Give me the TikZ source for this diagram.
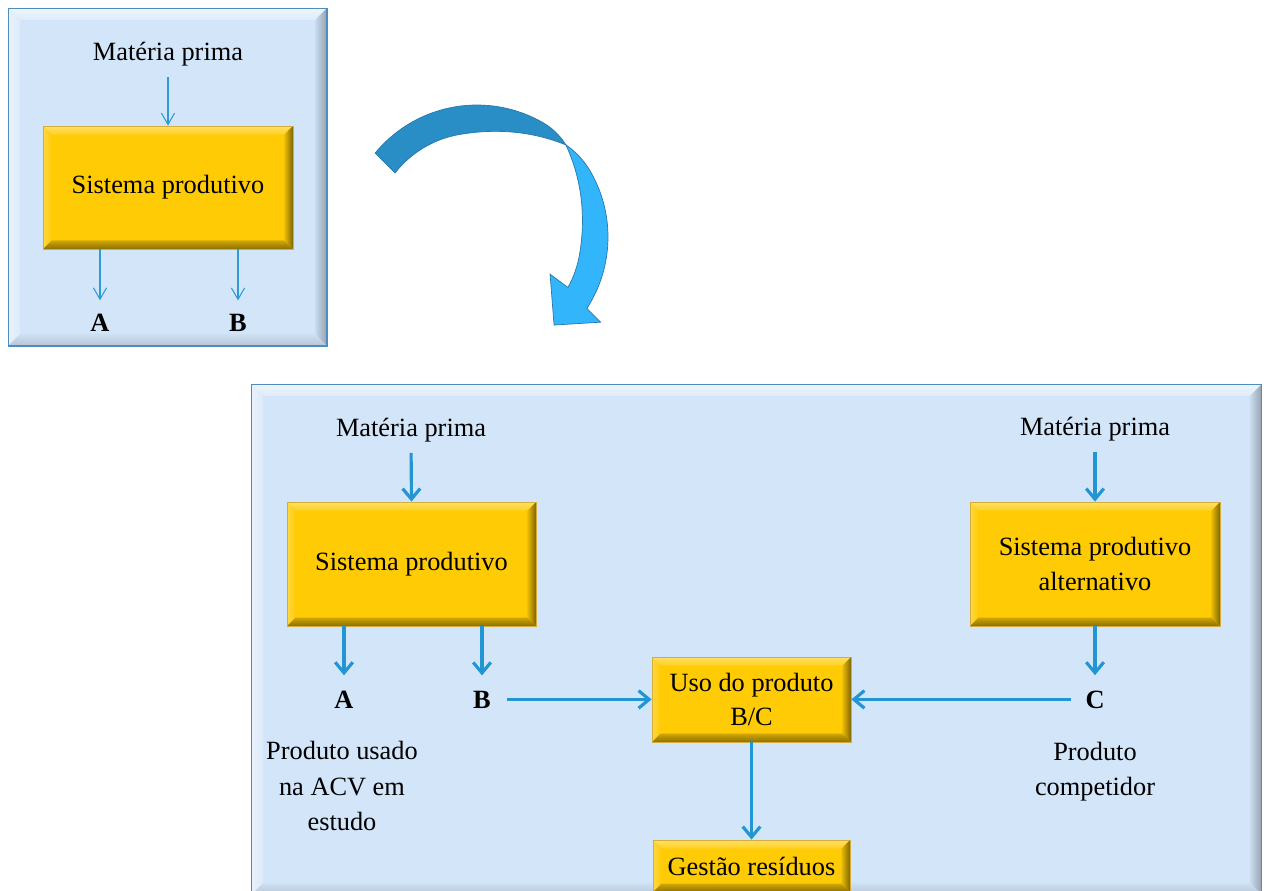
\documentclass[tikz,border=0pt]{standalone}
\usepackage{fontspec}
\setmainfont{Liberation Serif}
\usetikzlibrary{arrows.meta}

\definecolor{panelfill}{HTML}{D3E5F8}
\definecolor{panelline}{HTML}{4F8CC0}
\definecolor{yfill}{HTML}{FFCB05}
\definecolor{yline}{HTML}{D4AE3C}
\definecolor{arrowblue}{HTML}{2196D3}
\definecolor{thinblue}{HTML}{2E9BD6}
\definecolor{bigdark}{HTML}{2A8EC6}
\definecolor{biglight}{HTML}{33B5FC}
\definecolor{bigline}{HTML}{2578AA}

\tikzset{
  % bevelled edges drawn inside the node outline
  bevel/.style n args={5}{% depth, top, left, right, bottom shadings
    path picture={
      \coordinate (bnw) at (path picture bounding box.north west);
      \coordinate (bne) at (path picture bounding box.north east);
      \coordinate (bsw) at (path picture bounding box.south west);
      \coordinate (bse) at (path picture bounding box.south east);
      \shade[#2] (bnw) -- (bne) -- ([shift={(-#1,-#1)}]bne) -- ([shift={(#1,-#1)}]bnw) -- cycle;
      \shade[#3] (bnw) -- ([shift={(#1,-#1)}]bnw) -- ([shift={(#1,#1)}]bsw) -- (bsw) -- cycle;
      \shade[#4] (bne) -- (bse) -- ([shift={(-#1,#1)}]bse) -- ([shift={(-#1,-#1)}]bne) -- cycle;
      \shade[#5] (bsw) -- ([shift={(#1,#1)}]bsw) -- ([shift={(-#1,#1)}]bse) -- (bse) -- cycle;
    }},
  panel/.style={draw=panelline, line width=0.6pt, fill=panelfill, inner sep=0pt,
    bevel={0.24cm}
      {top color=white!60!panelfill, bottom color=white!25!panelfill}
      {left color=white!50!panelfill, right color=white!20!panelfill}
      {left color=black!4!panelfill, right color=black!30!panelfill}
      {top color=black!2!panelfill, bottom color=black!14!panelfill}},
  ybox/.style={draw=yline, line width=0.5pt, fill=yfill, inner sep=0pt,
    align=center, font=\fontsize{15}{19.6}\selectfont,
    bevel={0.17cm}
      {top color=white!40!yfill, bottom color=white!10!yfill}
      {left color=white!25!yfill, right color=yfill}
      {left color=black!8!yfill, right color=black!50!yfill}
      {top color=black!18!yfill, bottom color=black!45!yfill}},
  lbl/.style={inner sep=0pt, align=center, font=\fontsize{15}{20}\selectfont},
  lblb/.style={inner sep=0pt, font=\fontsize{15}{20}\selectfont\bfseries},
  thinarrow/.style={draw=thinblue, line width=0.6pt,
    -{Straight Barb[length=6.5pt,width=7.5pt,line width=0.6pt]}},
  thickarrow/.style={draw=arrowblue, line width=1.8pt,
    -{Straight Barb[length=6pt,width=10pt,line width=1.8pt]}}
}

\begin{document}
\begin{tikzpicture}[x=0.02cm, y=-0.02cm]
  \useasboundingbox (0,0) rectangle (1267,890);
  \clip (0,0) rectangle (1267,890);
  \fill[white] (0,0) rectangle (1267,890);

  % ---------- small scheme ----------
  \node[panel, minimum width=6.38cm, minimum height=6.76cm] (frame1) at (167.5,177) {};
  \node[ybox, minimum width=5cm, minimum height=2.46cm] (sp1) at (168,187.5) {Sistema produtivo};
  \node[lbl, anchor=base] (mp1) at (168,60) {Matéria prima};
  \node[lblb, anchor=base] (a1) at (100,331) {A};
  \node[lblb, anchor=base] (b1) at (238,331) {B};

  \draw[thinarrow, shorten <=0.22cm] (mp1.south) -- (sp1.north);
  \draw[thinarrow, shorten >=0.26cm] (sp1.south -| a1.north) -- (a1.north);
  \draw[thinarrow, shorten >=0.26cm] (sp1.south -| b1.north) -- (b1.north);

  % ---------- curved block arrow (twisted ribbon) ----------
  \begin{scope}[shift={(477,237)}, x=0.02cm, y=0.02cm]
    % front face, widening from the twist down to the head
    \fill[biglight, draw=bigline, line width=0.4pt]
      plot[domain=46:-33, variable=\t, samples=40] (\t:{131-3*(max(0,\t-30)/16)^2})
      -- (-34.6:150) -- (-48.8:117) -- (-27:82)
      -- plot[domain=-29:46, variable=\t, samples=40] (\t:{104+24*(max(0,\t+10)/56)^2})
      -- cycle;
    % back face, narrowing towards the twist
    \fill[bigdark, draw=bigline, line width=0.4pt]
      plot[domain=140.5:46, variable=\t, samples=50] (\t:{132-4*(max(0,60-\t)/14)^2})
      -- plot[domain=46:142, variable=\t, samples=50] (\t:{104+24*(max(0,100-\t)/54)^2})
      -- cycle;
  \end{scope}

  % ---------- extended scheme ----------
  \node[panel, minimum width=20.22cm, minimum height=10.22cm] (frame2) at (756.5,639.5) {};

  \node[ybox, minimum width=4.98cm, minimum height=2.48cm] (sp2) at (411.5,564) {Sistema produtivo};
  \node[ybox, minimum width=5cm, minimum height=2.48cm] (sp3) at (1095,564) {Sistema produtivo\\alternativo};
  \node[ybox, minimum width=3.98cm, minimum height=1.7cm] (uso) at (751.5,699.5) {Uso do produto\\B/C};
  \node[ybox, minimum width=3.94cm, minimum height=1.04cm] (ges) at (751.5,866) {Gestão resíduos};

  \node[lbl, anchor=base] (mp2) at (411,436) {Matéria prima};
  \node[lbl, anchor=base] (mp3) at (1095,435) {Matéria prima};

  \node[lblb, anchor=base] (a2) at (344,708) {A};
  \node[lblb, anchor=base] (b2) at (482,708) {B};
  \node[lblb, anchor=base] (c3) at (1095,708) {C};

  \node[lbl] (prodA) at (342,786) {Produto usado\\na ACV em\\estudo};
  \node[lbl] (prodC) at (1095,772) {Produto\\competidor};

  \draw[thickarrow, shorten <=0.22cm] (mp2.south) -- (sp2.north);
  \draw[thickarrow, shorten <=0.22cm] (mp3.south) -- (sp3.north);
  \draw[thickarrow, shorten >=0.3cm] (sp2.south -| a2.north) -- (a2.north);
  \draw[thickarrow, shorten >=0.3cm] (sp2.south -| b2.north) -- (b2.north);
  \draw[thickarrow, shorten >=0.3cm] (sp3.south -| c3.north) -- (c3.north);
  \draw[thickarrow, shorten <=0.32cm] (b2.east) -- (b2.east -| uso.west);
  \draw[thickarrow, shorten <=0.28cm] (c3.west) -- (c3.west -| uso.east);
  \draw[thickarrow] (uso.south) -- (ges.north);
\end{tikzpicture}
\end{document}
